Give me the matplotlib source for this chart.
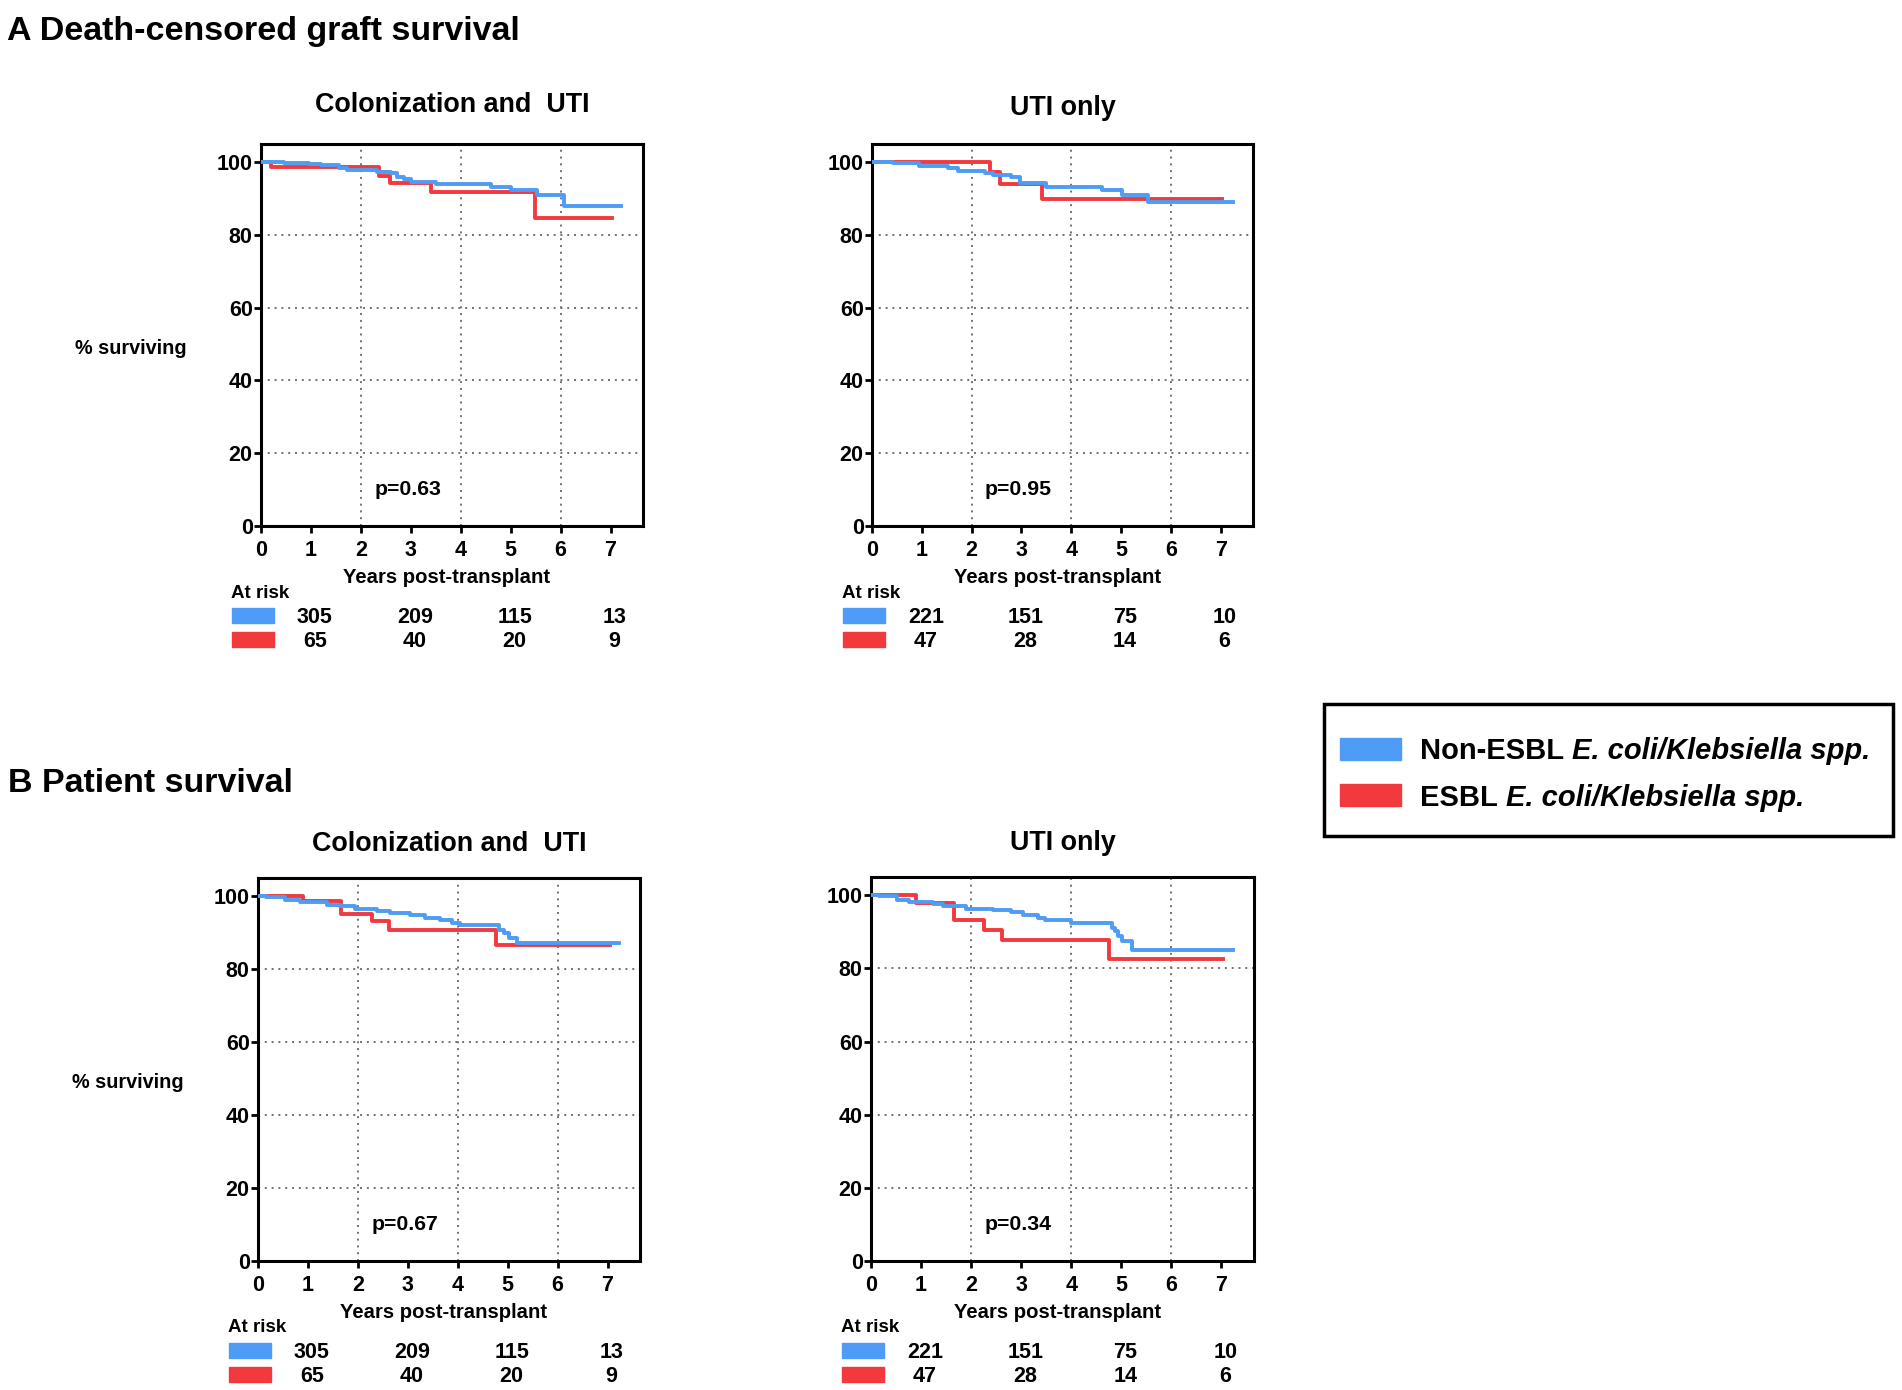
import matplotlib
matplotlib.use("Agg")
import matplotlib.pyplot as plt
from matplotlib.patches import Rectangle

plt.rcParams['font.family'] = ['Liberation Sans', 'DejaVu Sans']
plt.rcParams['font.weight'] = 'bold'
plt.rcParams['axes.labelweight'] = 'bold'
plt.rcParams['axes.titleweight'] = 'bold'

BLUE = '#4E9CF5'
RED = '#F2393D'

# ---- data ----
# A, colonization and UTI
a_col_blue_t = [0, 0.47, 0.97, 1.2, 1.57, 1.73, 2.33, 2.6, 2.73, 2.87, 3.0, 3.5, 4.6, 5.0, 5.53, 6.07, 7.2]
a_col_blue_s = [100, 99.8, 99.5, 99.1, 98.5, 97.9, 97.3, 96.9, 96.0, 95.4, 94.6, 93.9, 93.3, 92.4, 91.0, 88.0, 88.0]
a_col_red_t = [0, 0.2, 2.37, 2.59, 3.4, 5.48, 7.03]
a_col_red_s = [100, 98.8, 96.3, 94.4, 91.7, 84.6, 84.6]
# A, UTI only
a_uti_blue_t = [0, 0.42, 0.94, 1.53, 1.73, 2.26, 2.43, 2.8, 2.97, 3.5, 4.61, 5.01, 5.55, 7.24]
a_uti_blue_s = [100, 99.7, 99.0, 98.3, 97.6, 97.0, 96.5, 95.8, 94.3, 93.3, 92.3, 91.1, 89.0, 89.0]
a_uti_red_t = [0, 2.36, 2.58, 3.42, 7.03]
a_uti_red_s = [100, 97.2, 94.0, 90.0, 90.0]
# B, colonization and UTI
b_col_blue_t = [0, 0.17, 0.54, 0.84, 1.38, 1.65, 1.95, 2.38, 2.65, 3.05, 3.35, 3.65, 3.89, 4.05, 4.82, 4.92, 5.02, 5.19, 7.23]
b_col_blue_s = [100, 99.8, 99.1, 98.3, 97.7, 97.2, 96.5, 95.9, 95.4, 94.8, 94.0, 93.6, 92.7, 92.0, 90.8, 89.9, 88.5, 87.3, 87.3]
b_col_red_t = [0, 0.91, 1.67, 2.28, 2.62, 4.77, 7.04]
b_col_red_s = [100, 98.6, 95.2, 93.1, 90.8, 86.6, 86.6]
# B, UTI only
b_uti_blue_t = [0, 0.15, 0.52, 0.76, 1.23, 1.43, 1.9, 2.43, 2.8, 3.03, 3.34, 3.47, 4.0, 4.81, 4.88, 4.94, 5.01, 5.21, 7.24]
b_uti_blue_s = [100, 99.7, 98.8, 98.2, 97.6, 97.0, 96.3, 95.9, 95.3, 94.7, 93.8, 93.2, 92.4, 91.0, 90.1, 88.8, 87.4, 85.1, 85.1]
b_uti_red_t = [0, 0.9, 1.66, 2.26, 2.62, 4.76, 7.04]
b_uti_red_s = [100, 97.9, 93.3, 90.6, 87.9, 82.6, 82.6]

risk_times = [1, 3, 5, 7]
col_risk_blue = [305, 209, 115, 13]
col_risk_red = [65, 40, 20, 9]
uti_risk_blue = [221, 151, 75, 10]
uti_risk_red = [47, 28, 14, 6]

p_values = ['p=0.63', 'p=0.95', 'p=0.67', 'p=0.34']
titles = ['Colonization and  UTI', 'UTI only', 'Colonization and  UTI', 'UTI only']
legend_plain = ['Non-ESBL', 'ESBL']
legend_italic = ['E. coli/Klebsiella spp.', 'E. coli/Klebsiella spp.']

W, H = 1902, 1390
fig = plt.figure(figsize=(W / 100, H / 100), dpi=100)


def px_axes(left, top, right, bottom):
    return fig.add_axes([left / W, 1 - bottom / H, (right - left) / W, (bottom - top) / H])


axes = [px_axes(261, 144, 643, 526), px_axes(872, 144, 1253, 526),
        px_axes(258, 878, 640, 1261), px_axes(871, 877, 1254, 1261)]
title_pads = [22.7, 21, 19.3, 19.3]

curves = [(a_col_blue_t, a_col_blue_s, a_col_red_t, a_col_red_s, col_risk_blue, col_risk_red),
          (a_uti_blue_t, a_uti_blue_s, a_uti_red_t, a_uti_red_s, uti_risk_blue, uti_risk_red),
          (b_col_blue_t, b_col_blue_s, b_col_red_t, b_col_red_s, col_risk_blue, col_risk_red),
          (b_uti_blue_t, b_uti_blue_s, b_uti_red_t, b_uti_red_s, uti_risk_blue, uti_risk_red)]

for i, ax in enumerate(axes):
    bt, bs, rt, rs, nb, nr = curves[i]
    ax.set_xlim(0, 7.65)
    ax.set_ylim(0, 105)
    ax.set_xticks(range(8))
    ax.set_yticks([0, 20, 40, 60, 80, 100])
    for g in [20, 40, 60, 80]:
        ax.axhline(g, color='#707070', lw=1.4, ls=(0, (1, 2.5)), zorder=1)
    for g in [2, 4, 6]:
        ax.axvline(g, color='#707070', lw=1.4, ls=(0, (1, 2.5)), zorder=1)
    ax.step(rt, rs, where='post', color=RED, lw=2.8, zorder=3)
    ax.step(bt, bs, where='post', color=BLUE, lw=2.8, zorder=4)
    for sp in ax.spines.values():
        sp.set_linewidth(2.2)
    ax.tick_params(direction='out', length=5, width=2, labelsize=15.5)
    ax.tick_params(axis='x', pad=5)
    ax.tick_params(axis='y', pad=1)
    ax.set_title(titles[i], fontsize=19.4, pad=title_pads[i])
    ax.text(2.27, 10, p_values[i], fontsize=15.3, ha='left', va='center')
    ax.set_xlabel('Years post-transplant', fontsize=14.6, va='center')
    ax.xaxis.set_label_coords(0.486, -0.134)
    if i % 2 == 0:
        ax.set_ylabel('% surviving', fontsize=14.3, rotation=0, ha='center', va='center')
        ax.yaxis.set_label_coords(-0.34, 0.465)

    # at-risk table
    bb = ax.get_position()
    aw, ah = bb.width * W, bb.height * H
    ax.annotate('At risk', xy=(0, 0), xycoords='axes fraction', xytext=(-30, -67),
                textcoords='offset pixels', ha='left', va='center', fontsize=13.5)
    for row, (counts, col) in enumerate([(nb, BLUE), (nr, RED)]):
        y0 = -97 - row * 24
        ax.add_patch(Rectangle((-29 / aw, y0 / ah), 42 / aw, 15 / ah, transform=ax.transAxes,
                               color=col, clip_on=False))
        for t, n in zip(risk_times, counts):
            ax.annotate(str(n), xy=(t, 0), xycoords=('data', 'axes fraction'),
                        xytext=(4, y0 + 6), textcoords='offset pixels',
                        ha='center', va='center', fontsize=15.5)

fig.text(7 / W, 1 - 40 / H, 'A Death-censored graft survival', fontsize=24.5, va='baseline')
fig.text(8 / W, 1 - 792 / H, 'B Patient survival', fontsize=24.5, va='baseline')

# legend box, built by hand so that the species names can be italic
fig.patches.append(Rectangle((1324 / W, 1 - 836 / H), 569 / W, 132 / H, transform=fig.transFigure,
                             fill=False, lw=2.5, ec='black'))
renderer = fig.canvas.get_renderer()
for k, (col, top, base) in enumerate([(BLUE, 738, 759.5), (RED, 784, 806.5)]):
    fig.patches.append(Rectangle((1340 / W, 1 - (top + 22) / H), 61 / W, 22 / H,
                                 transform=fig.transFigure, color=col))
    t1 = fig.text(1420 / W, 1 - base / H, legend_plain[k], fontsize=21, va='baseline')
    x1 = t1.get_window_extent(renderer).x1
    fig.text((x1 + 8) / W, 1 - base / H, legend_italic[k], fontsize=21, va='baseline',
             style='italic')

fig.savefig('out.png', dpi=100)
